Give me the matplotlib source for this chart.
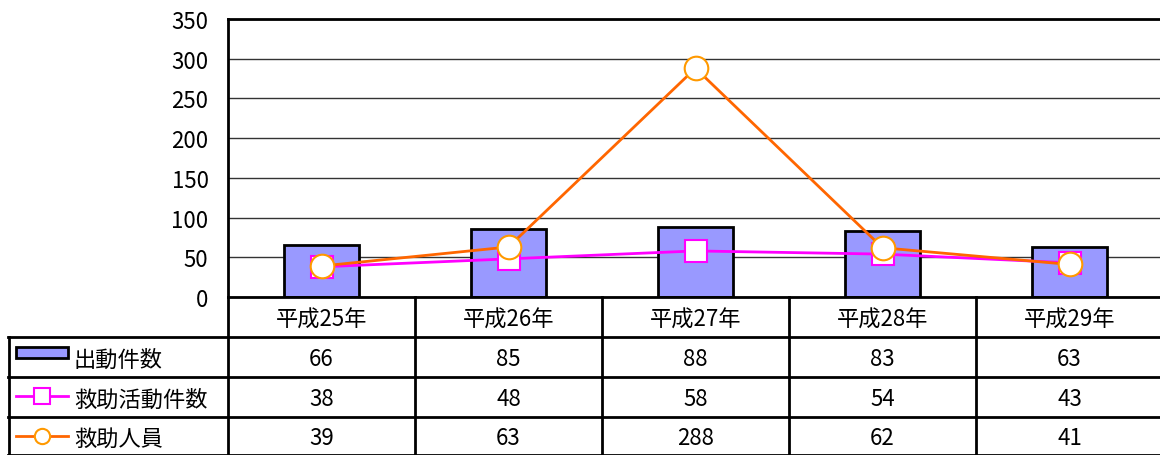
import matplotlib
matplotlib.use("Agg")
import matplotlib.pyplot as plt
from matplotlib.lines import Line2D
from matplotlib.patches import Rectangle
import matplotlib.transforms as mtransforms

plt.rcParams['font.family'] = ['Noto Sans CJK JP', 'DejaVu Sans']

categories = ["平成25年", "平成26年", "平成27年", "平成28年", "平成29年"]
series_names = ["出動件数", "救助活動件数", "救助人員"]
dispatches = [66, 85, 88, 83, 63]
rescue_activities = [38, 48, 58, 54, 43]
rescued_people = [39, 63, 288, 62, 41]
yticks = [0, 50, 100, 150, 200, 250, 300, 350]

W, H = 1160, 456
fig = plt.figure(figsize=(W / 100, H / 100), dpi=100)

def fx(px):
    return px / W

def fy(py):
    return 1 - py / H

ax_left, ax_right, ax_top, ax_bottom = 228, 1163, 20, 298
ax = fig.add_axes([fx(ax_left), fy(ax_bottom), fx(ax_right - ax_left), (ax_bottom - ax_top) / H])

BAR_C = "#9999FF"
MAG = "#FF00FF"
ORL = "#FF6600"
ORM = "#FF9900"
FS = 16

x = list(range(len(categories)))
ax.bar(x, dispatches, width=0.4, color=BAR_C, edgecolor="black", linewidth=2, zorder=2)
ax.plot(x, rescue_activities, color=MAG, linewidth=2, marker="s", markersize=16,
        markerfacecolor="white", markeredgecolor=MAG, markeredgewidth=1.5, zorder=3)
ax.plot(x, rescued_people, color=ORL, linewidth=2, marker="o", markersize=17,
        markerfacecolor="white", markeredgecolor=ORM, markeredgewidth=1.5, zorder=4)

ax.set_xlim(-0.5, len(categories) - 0.5)
ax.set_ylim(0, 350)
ax.set_yticks(yticks)
ax.set_yticklabels([str(t) for t in yticks], fontsize=FS)
ax.tick_params(axis="y", length=0, pad=14)
ax.set_xticks([])
ax.grid(axis="y", color="#333333", linewidth=1, zorder=0)
ax.set_axisbelow(True)
for s in ["left", "bottom", "top"]:
    ax.spines[s].set_linewidth(2)
    ax.spines[s].set_color("black")
ax.spines["right"].set_visible(False)

# ---- data table ----
trans = mtransforms.blended_transform_factory(ax.transData, fig.transFigure)
row_edges = [298, 338, 378, 418, 456]
lw = 2
for py in row_edges[1:]:
    fig.add_artist(Line2D([fx(8), 1], [fy(py), fy(py)], color="black", linewidth=lw))
fig.add_artist(Line2D([fx(9), fx(9)], [fy(338), fy(456)], color="black", linewidth=lw))
fig.add_artist(Line2D([fx(228), fx(228)], [fy(298), fy(456)], color="black", linewidth=lw))
for b in range(1, len(categories)):
    fig.add_artist(Line2D([b - 0.5, b - 0.5], [fy(298), fy(456)], color="black",
                          linewidth=lw, transform=trans))

def row_center(r):
    return fy((row_edges[r] + row_edges[r + 1]) / 2 + 2)

for i, c in enumerate(categories):
    fig.text(i, row_center(0), c, transform=trans, ha="center", va="center", fontsize=FS)
rows = [dispatches, rescue_activities, rescued_people]
for r, vals in enumerate(rows):
    for i, v in enumerate(vals):
        fig.text(i, row_center(r + 1), str(v), transform=trans, ha="center",
                 va="center", fontsize=FS)
    fig.text(fx(74), row_center(r + 1), series_names[r], ha="left", va="center", fontsize=FS)

# legend keys
fig.add_artist(Rectangle((fx(16), fy(359)), fx(52), (359 - 348) / H, facecolor=BAR_C,
                         edgecolor="black", linewidth=2))
yk = fy(397)
fig.add_artist(Line2D([fx(16), fx(68)], [yk, yk], color=MAG, linewidth=2))
fig.add_artist(Line2D([fx(42)], [yk], marker="s", markersize=11, markerfacecolor="white",
                      markeredgecolor=MAG, markeredgewidth=1.5, color=MAG))
yk = fy(437)
fig.add_artist(Line2D([fx(16), fx(68)], [yk, yk], color=ORL, linewidth=2))
fig.add_artist(Line2D([fx(42)], [yk], marker="o", markersize=11, markerfacecolor="white",
                      markeredgecolor=ORM, markeredgewidth=1.5, color=ORL))

fig.savefig("out.png", dpi=100)
